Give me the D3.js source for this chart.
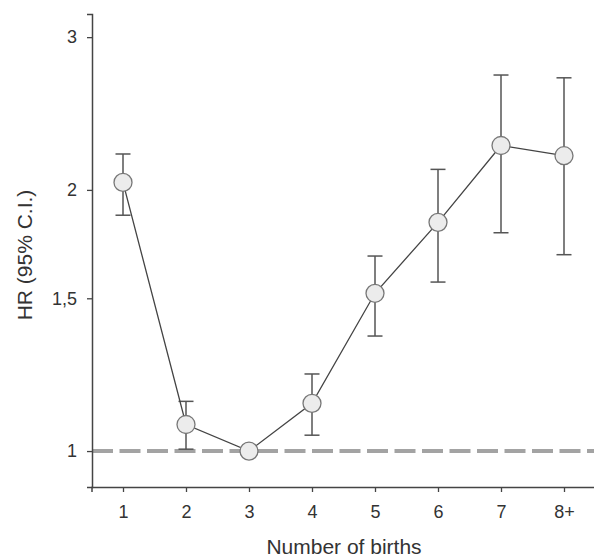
<!DOCTYPE html>
<html>
<head>
<meta charset="utf-8">
<script src="https://cdn.jsdelivr.net/npm/d3@7"></script>
<style>
  body { margin: 0; background: #fff; }
  svg text { font-family: "Liberation Sans", Arial, sans-serif; fill: #333; }
</style>
</head>
<body>
<svg id="chart"></svg>
<script>
const width = 594;
const height = 560;

// number of births categories and hazard ratios
const births = ["1", "2", "3", "4", "5", "6", "7", "8+"];
const hr = [2.04, 1.073, 1.0, 1.135, 1.52, 1.835, 2.25, 2.19];
const ciLow = [1.87, 1.005, null, 1.043, 1.357, 1.566, 1.785, 1.684];
const ciHigh = [2.2, 1.141, null, 1.227, 1.678, 2.112, 2.713, 2.693];
const yTicks = [1, 1.5, 2, 3];
const yTickLabels = ["1", "1,5", "2", "3"];

const svg = d3.select("#chart")
    .attr("width", width)
    .attr("height", height);

const x = d3.scalePoint()
    .domain(births)
    .range([91.5, 595.5])
    .padding(0.5);

const y = d3.scaleLog()
    .domain([0.909, 3.19])
    .range([487, 14]);

// reference line at HR = 1
svg.append("line")
    .attr("x1", 92).attr("x2", width)
    .attr("y1", y(1)).attr("y2", y(1))
    .attr("stroke", "#a3a3a3")
    .attr("stroke-width", 4)
    .attr("stroke-dasharray", "21,6.5");

// axes
const yAxis = svg.append("g")
    .attr("transform", "translate(92,0)")
    .call(d3.axisLeft(y)
        .tickValues(yTicks)
        .tickFormat((d, i) => yTickLabels[i])
        .tickSizeOuter(0)
        .tickSize(5)
        .tickPadding(10));

const xAxis = svg.append("g")
    .attr("transform", "translate(0,487)")
    .call(d3.axisBottom(x)
        .tickSizeOuter(0)
        .tickSize(5)
        .tickPadding(13));

[xAxis, yAxis].forEach(g => {
    g.select(".domain").attr("stroke", "#444").attr("stroke-width", 1.5);
    g.selectAll(".tick line").attr("stroke", "#444").attr("stroke-width", 1.3);
    g.selectAll(".tick text")
        .attr("fill", "#333")
        .style("font-family", "Liberation Sans, Arial, sans-serif")
        .style("font-size", "18px");
});

// error bars
const bars = births.map((b, i) => ({ b, lo: ciLow[i], hi: ciHigh[i] }))
    .filter(d => d.lo != null);

const eb = svg.append("g")
    .attr("stroke", "#555")
    .attr("stroke-width", 1.5)
    .attr("fill", "none");

eb.selectAll(".v").data(bars).enter().append("line")
    .attr("x1", d => x(d.b)).attr("x2", d => x(d.b))
    .attr("y1", d => y(d.lo)).attr("y2", d => y(d.hi));

eb.selectAll(".lo").data(bars).enter().append("line")
    .attr("x1", d => x(d.b) - 7.5).attr("x2", d => x(d.b) + 7.5)
    .attr("y1", d => y(d.lo)).attr("y2", d => y(d.lo));

eb.selectAll(".hi").data(bars).enter().append("line")
    .attr("x1", d => x(d.b) - 7.5).attr("x2", d => x(d.b) + 7.5)
    .attr("y1", d => y(d.hi)).attr("y2", d => y(d.hi));

// connecting line
const points = births.map((b, i) => ({ b, v: hr[i] }));

svg.append("path")
    .datum(points)
    .attr("fill", "none")
    .attr("stroke", "#444")
    .attr("stroke-width", 1.3)
    .attr("d", d3.line().x(d => x(d.b)).y(d => y(d.v)));

// markers
svg.selectAll("circle")
    .data(points)
    .enter()
    .append("circle")
    .attr("cx", d => x(d.b))
    .attr("cy", d => y(d.v))
    .attr("r", 9)
    .attr("fill", "#ececec")
    .attr("stroke", "#777")
    .attr("stroke-width", 1.3);

// axis titles
svg.append("text")
    .attr("x", 344)
    .attr("y", 554)
    .attr("text-anchor", "middle")
    .style("font-size", "21px")
    .text("Number of births");

svg.append("text")
    .attr("transform", "translate(32,255) rotate(-90)")
    .attr("text-anchor", "middle")
    .style("font-size", "21px")
    .text("HR (95% C.I.)");
</script>
</body>
</html>
